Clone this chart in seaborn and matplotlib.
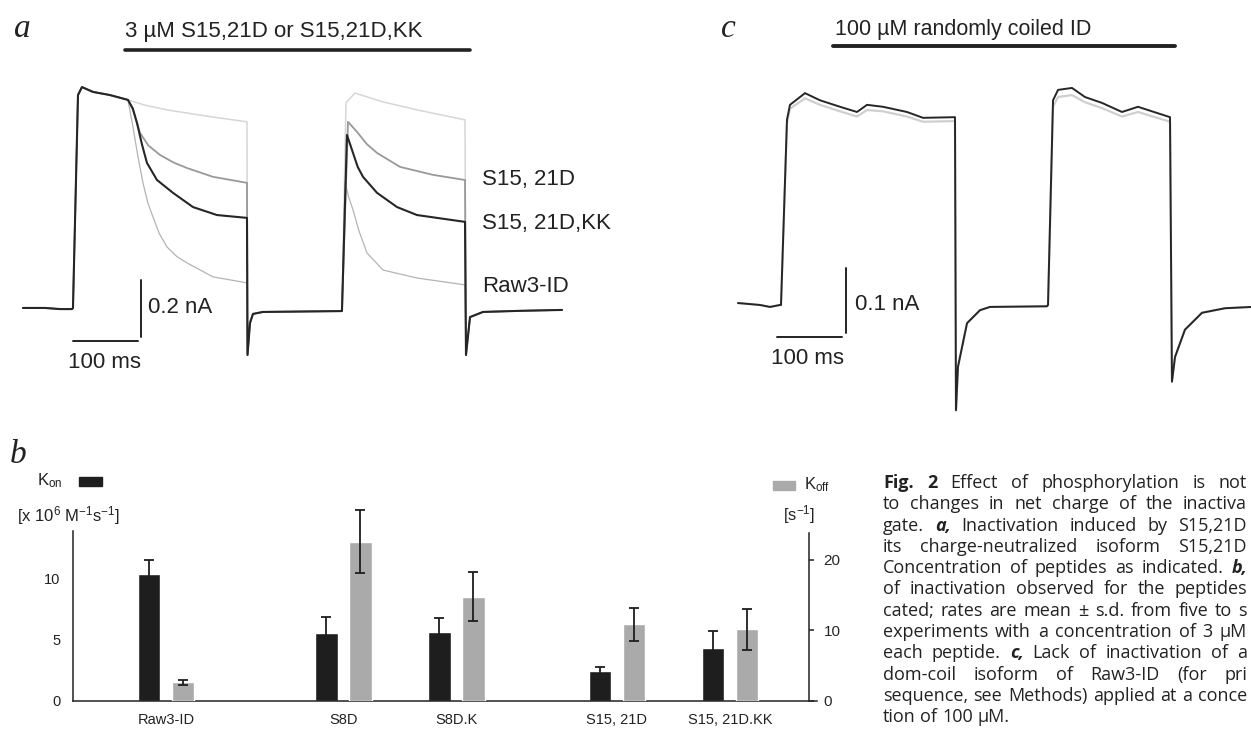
import numpy as np
import pandas as pd
import seaborn as sns
import matplotlib.pyplot as plt
from matplotlib.lines import Line2D
from matplotlib.patches import Rectangle

W, H = 1251, 730
ink = "#222222"

# ---------------- panel a: whole-cell currents (t in ms, I in nA) ----------------
# shared part: baseline, activation, plateau before the peptide acts
a_pre_t = [-77, -43, -20, -1.5, 0, 7.7, 13.8, 30.8, 56.9, 84.6]
a_pre_i = [0.0, 0.0, -0.004, -0.004, 0.0, 0.747, 0.775, 0.758, 0.747, 0.730]
# tail currents after each pulse
a_tail1_t = [268.5, 272.3, 276.9, 292.3, 413.8]
a_tail1_i = [-0.165, -0.053, -0.021, -0.014, -0.011]
a_tail2_t = [604.6, 610.8, 630.8, 690.0, 752.3]
a_tail2_i = [-0.165, -0.032, -0.014, -0.010, -0.007]

ctrl_p1_t = [110.0, 144.6, 200.0, 267.7]
ctrl_p1_i = [0.712, 0.695, 0.675, 0.653]
ctrl_p2_t = [420.0, 433.8, 476.9, 529.2, 603.1]
ctrl_p2_i = [0.72, 0.754, 0.723, 0.695, 0.660]

s15_p1_t = [92.3, 103.1, 116.0, 133.8, 155.0, 175.4, 215.4, 267.7]
s15_p1_i = [0.695, 0.614, 0.570, 0.537, 0.510, 0.491, 0.460, 0.439]
s15_p2_t = [423.1, 436.9, 452.0, 467.7, 503.1, 553.8, 603.1]
s15_p2_i = [0.653, 0.618, 0.575, 0.544, 0.495, 0.467, 0.449]

kk_p1_t = [92.0, 98.5, 106.0, 113.8, 129.2, 153.8, 184.6, 221.5, 267.7]
kk_p1_i = [0.700, 0.649, 0.575, 0.509, 0.449, 0.404, 0.354, 0.326, 0.316]
kk_p2_t = [421.5, 430.8, 438.0, 446.2, 467.7, 498.5, 529.2, 603.1]
kk_p2_i = [0.607, 0.544, 0.495, 0.460, 0.404, 0.354, 0.326, 0.302]

raw_p1_t = [92.3, 100.0, 107.7, 115.0, 123.1, 133.0, 144.6, 160.0, 175.4, 215.4, 267.7]
raw_p1_i = [0.635, 0.530, 0.439, 0.370, 0.319, 0.260, 0.214, 0.180, 0.158, 0.109, 0.088]
raw_p2_t = [418.5, 424.0, 430.8, 440.0, 452.3, 476.9, 529.2, 603.1]
raw_p2_i = [0.442, 0.390, 0.344, 0.270, 0.193, 0.133, 0.105, 0.081]

# ---------------- panel b: binding rates ----------------
peptides = ["Raw3-ID", "S8D", "S8D.K", "S15, 21D", "S15, 21D.KK"]
group_pos = [0, 1.57, 2.57, 3.99, 4.99]
kon = [10.36, 5.58, 5.62, 2.48, 4.33]          # x 10^6 M^-1 s^-1
kon_sd = [1.15, 1.30, 1.20, 0.27, 1.39]
koff = [2.64, 22.5, 14.75, 10.83, 10.14]       # s^-1
koff_sd = [0.38, 4.45, 3.45, 2.35, 2.88]

# ---------------- panel c: randomly coiled ID ----------------
c_t = [-66.2, -32.3, -16.9, -1.5, 0, 9.2, 13.8, 36.9, 60, 90.8, 116.9, 132.3, 156.9,
       193.8, 218.5, 267.7, 269.2, 272.3, 286.2, 306.2, 321.5, 409.2, 410.8, 418.5,
       426.2, 447.7, 467.7, 493.8, 524.6, 549.2, 598.5, 601.5, 606.2, 621.5, 647.7,
       683.1, 724.6]
c_i = [0.003, 0.0, -0.003, 0.0, 0.0, 0.285, 0.308, 0.326, 0.315, 0.305, 0.297, 0.308,
       0.305, 0.297, 0.288, 0.289, -0.162, -0.095, -0.028, -0.008, -0.003, -0.002, 0.0,
       0.315, 0.331, 0.334, 0.320, 0.311, 0.297, 0.305, 0.289, -0.118, -0.080, -0.038,
       -0.012, -0.005, -0.003]
c_ctrl_i = [0.003, 0.0, -0.003, 0.0, 0.0, 0.280, 0.302, 0.318, 0.308, 0.298, 0.290,
            0.300, 0.298, 0.290, 0.282, 0.283, -0.162, -0.095, -0.028, -0.008, -0.003,
            -0.002, 0.0, 0.305, 0.320, 0.323, 0.312, 0.303, 0.290, 0.297, 0.282, -0.118,
            -0.080, -0.038, -0.012, -0.005, -0.003]

# caption as far as it is visible in the figure (the column runs off the page)
caption_lines = [
    "#Fig. #2 Effect of phosphorylation is not",
    "to changes in net charge of the inactiva",
    "gate. @a, Inactivation induced by S15,21D",
    "its charge-neutralized isoform S15,21D",
    "Concentration of peptides as indicated. @b,",
    "of inactivation observed for the peptides",
    "cated; rates are mean ± s.d. from five to s",
    "experiments with a concentration of 3 µM",
    "each peptide. @c, Lack of inactivation of a",
    "dom-coil isoform of Raw3-ID (for pri",
    "sequence, see Methods) applied at a conce",
    "tion of 100 µM.",
]

sns.set_theme(style="white")
plt.rcParams["font.family"] = ["Liberation Sans", "DejaVu Sans"]
plt.rcParams["mathtext.default"] = "regular"

fig = plt.figure(figsize=(W / 100, H / 100), dpi=100)


def px_axes(left, top, right, bottom):
    return fig.add_axes([left / W, 1 - bottom / H, (right - left) / W, (bottom - top) / H])


def fx(x):
    return x / W


def fy(y):
    return 1 - y / H


def trace(ax, t, i, color, lw):
    df = pd.DataFrame({"t": t, "i": i})
    sns.lineplot(data=df, x="t", y="i", ax=ax, color=color, lw=lw,
                 sort=False, estimator=None)


# ---------------- panel a ----------------
ax_a = px_axes(20, 60, 580, 400)
series = [
    (ctrl_p1_t, ctrl_p1_i, ctrl_p2_t, ctrl_p2_i, "#d6d6d6", 1.1),
    (raw_p1_t, raw_p1_i, raw_p2_t, raw_p2_i, "#b4b4b4", 0.9),
    (s15_p1_t, s15_p1_i, s15_p2_t, s15_p2_i, "#999999", 1.3),
    (kk_p1_t, kk_p1_i, kk_p2_t, kk_p2_i, "#262626", 1.5),
]
for p1t, p1i, p2t, p2i, col, lw in series:
    tt = a_pre_t + p1t + a_tail1_t + p2t + a_tail2_t
    ii = a_pre_i + p1i + a_tail1_i + p2i + a_tail2_i
    trace(ax_a, tt, ii, col, lw)
ax_a.set_xlim(-81.5, 780)
ax_a.set_ylim(-0.323, 0.870)
ax_a.axis("off")

ax_a.plot([0, 100], [-0.116, -0.116], color=ink, lw=1.4)
ax_a.plot([104.6, 104.6], [-0.102, 0.098], color=ink, lw=1.4)
ax_a.text(115.4, 0.0, "0.2 nA", fontsize=16, va="center", ha="left", color=ink)
ax_a.text(49, -0.193, "100 ms", fontsize=16, va="center", ha="center", color=ink)
for lab, yv in [("S15, 21D", 0.449), ("S15, 21D,KK", 0.298), ("Raw3-ID", 0.074)]:
    ax_a.text(629.2, yv, lab, fontsize=16, va="center", ha="left", color=ink)

fig.add_artist(Line2D([fx(125), fx(470)], [fy(50), fy(50)], lw=2.6, color=ink))
fig.text(fx(125), fy(32), "3 µM S15,21D or S15,21D,KK", fontsize=16, va="center", color=ink)

# ---------------- panel c ----------------
ax_c = px_axes(720, 60, 1251, 420)
trace(ax_c, c_t, c_ctrl_i, "#cfcfcf", 1.6)
trace(ax_c, c_t, c_i, "#262626", 1.4)
ax_c.set_xlim(-93.85, 723.1)
ax_c.set_ylim(-0.177, 0.377)
ax_c.axis("off")
ax_c.plot([-6.2, 93.8], [-0.049, -0.049], color=ink, lw=1.4)
ax_c.plot([100, 100], [-0.043, 0.057], color=ink, lw=1.4)
ax_c.text(113.8, 0.0, "0.1 nA", fontsize=16, va="center", ha="left", color=ink)
ax_c.text(41.5, -0.082, "100 ms", fontsize=16, va="center", ha="center", color=ink)

fig.add_artist(Line2D([fx(833), fx(1175)], [fy(46), fy(46)], lw=2.8, color=ink))
fig.text(fx(835), fy(30), "100 µM randomly coiled ID", fontsize=15.5, va="center", color=ink)

# ---------------- panel b ----------------
off = 0.15
bdf = pd.DataFrame({"peptide": peptides, "pos": group_pos, "kon": kon, "kon_sd": kon_sd,
                    "koff": koff, "koff_sd": koff_sd})
bdf["x_on"] = bdf["pos"] - off
bdf["x_off"] = bdf["pos"] + off

ax_b = px_axes(73, 500, 817, 701)
ax_b2 = ax_b.twinx()
sns.barplot(data=bdf, x="x_on", y="kon", native_scale=True, width=0.2, color="#1e1e1e",
            saturation=1, errorbar=None, ax=ax_b)
sns.barplot(data=bdf, x="x_off", y="koff", native_scale=True, width=0.2, color="#aaaaaa",
            saturation=1, errorbar=None, ax=ax_b2)
ax_b.errorbar(bdf["x_on"], bdf["kon"], yerr=bdf["kon_sd"], fmt="none", ecolor="#1e1e1e",
              elinewidth=1.3, capsize=3.5, capthick=1.3, clip_on=False)
ax_b2.errorbar(bdf["x_off"], bdf["koff"], yerr=bdf["koff_sd"], fmt="none", ecolor="#1e1e1e",
               elinewidth=1.3, capsize=3.5, capthick=1.3, clip_on=False)

tick_size = 10.5
ax_b.set_xlim(-0.823, 5.761)
ax_b.set_ylim(0, 16.43)
ax_b2.set_ylim(0, 28.43)
ax_b.set_xticks(group_pos)
ax_b.set_xticklabels(peptides, fontsize=tick_size, color=ink)
ax_b.set_yticks([0, 5, 10])
ax_b.set_yticklabels(["0", "5", "10"], fontsize=tick_size, color=ink)
ax_b2.set_yticks([0, 10, 20])
ax_b2.set_yticklabels(["0", "10", "20"], fontsize=tick_size, color=ink)
ax_b.set(xlabel="", ylabel="")
ax_b2.set(xlabel="", ylabel="")
ax_b.tick_params(axis="x", length=0, pad=9)
ax_b.tick_params(axis="y", length=0, pad=9, left=False)
ax_b2.tick_params(axis="y", length=3.5, width=1.1, pad=7, direction="out", color=ink, right=True)

for ax in (ax_b, ax_b2):
    for s in ax.spines.values():
        s.set_visible(False)
    ax.grid(False)
ax_b.spines["left"].set_visible(True)
ax_b.spines["left"].set_bounds(0, 13.9)
ax_b.spines["bottom"].set_visible(True)
ax_b2.spines["right"].set_visible(True)
ax_b2.spines["right"].set_bounds(0, 23.8)
ax_b2.spines["right"].set_position(("axes", (809 - 73) / 744))
for s in (ax_b.spines["left"], ax_b.spines["bottom"], ax_b2.spines["right"]):
    s.set_color(ink)
    s.set_linewidth(1.1)
ax_b.patch.set_visible(False)
ax_b2.patch.set_visible(False)

leg_size = 12
fig.text(fx(37), fy(481), "K$_{on}$", fontsize=leg_size, va="center", color=ink)
fig.add_artist(Rectangle((fx(79), fy(486)), 23 / W, 9 / H, transform=fig.transFigure,
                         color="#1e1e1e"))
fig.text(fx(17), fy(516), "[x 10$^6$ M$^{-1}$s$^{-1}$]", fontsize=leg_size, va="center",
         color=ink)
fig.add_artist(Rectangle((fx(773), fy(490)), 22 / W, 9 / H, transform=fig.transFigure,
                         color="#aaaaaa"))
fig.text(fx(804), fy(485), "K$_{off}$", fontsize=leg_size, va="center", color=ink)
fig.text(fx(783), fy(515), "[s$^{-1}$]", fontsize=leg_size, va="center", color=ink)

# panel letters
for lab, x, y in [("a", 14, 37), ("b", 10, 463), ("c", 721, 37)]:
    fig.text(fx(x), fy(y), lab, fontsize=24, family="Liberation Serif", style="italic",
             va="baseline", ha="left", color=ink)

# ---------------- caption (justified block) ----------------
renderer = fig.canvas.get_renderer()
cap_size = 13
cap_font = ["Open Sans", "DejaVu Sans"]


def cap_word(w, y):
    weight, style = "normal", "normal"
    if w.startswith("#"):
        w, weight = w[1:], "bold"
    elif w.startswith("@"):
        w, weight, style = w[1:], "bold", "italic"
    return fig.text(0, fy(y), w, fontsize=cap_size, family=cap_font, weight=weight,
                    style=style, va="center", ha="left", color=ink)


probe1 = fig.text(0, 0, "n n", fontsize=cap_size, family=cap_font)
probe2 = fig.text(0, 0, "nn", fontsize=cap_size, family=cap_font)
space_w = probe1.get_window_extent(renderer).width - probe2.get_window_extent(renderer).width
probe1.remove()
probe2.remove()

x0, x1, y0, dy = 883, 1247, 483, 21.3
for k, line in enumerate(caption_lines):
    y = y0 + k * dy
    arts = [cap_word(w, y) for w in line.split(" ")]
    widths = [a.get_window_extent(renderer).width for a in arts]
    if k == len(caption_lines) - 1:
        gap = space_w
    else:
        gap = max((x1 - x0 - sum(widths)) / (len(arts) - 1), 0.8 * space_w)
    x = x0
    for a, wd in zip(arts, widths):
        a.set_x(fx(x))
        x += wd + gap

fig.savefig("out.png", dpi=100, facecolor="white")
